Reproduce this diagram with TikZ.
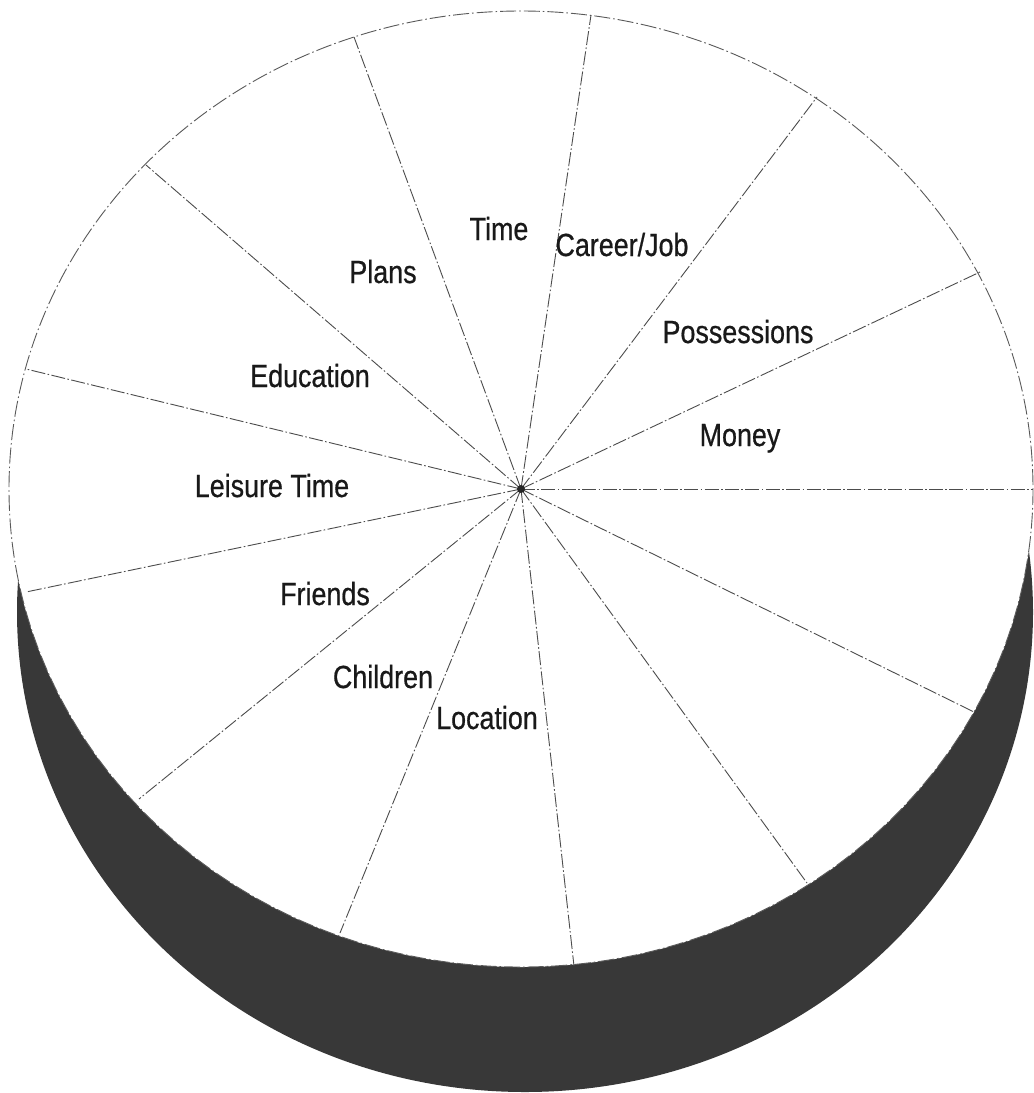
\documentclass[tikz,border=0pt]{standalone}
\usepackage{fontspec}
\newfontfamily\lblfont[FakeStretch=0.84,FakeBold=0.6]{Liberation Sans}
\begin{document}
\begin{tikzpicture}[x=0.5pt,y=-0.5pt,
  radial/.style={draw=black!70, line width=0.45pt, dash pattern=on 7pt off 1.2pt on 0.8pt off 1.2pt},
  rim/.style={draw=black!65, line width=0.45pt, dash pattern=on 8pt off 1.5pt on 0.8pt off 1.5pt},
  band/.style={fill=black!78},
  lbl/.style={font=\lblfont\fontsize{16}{19}\selectfont, text=black!90, inner sep=0pt, anchor=base}]
\useasboundingbox (0,0) rectangle (1034,1093);
% side of the cylinder
\fill[band] (525,612) ellipse [x radius=508, y radius=480];
% top face
\fill[white] (521,489) ellipse [x radius=512, y radius=478];
\draw[rim] (521,489) ellipse [x radius=512, y radius=478];
% centre and rim points
\coordinate (c) at (521,489);
\coordinate (p0) at (1033,489);
\coordinate (p1) at (980,272);
\coordinate (p2) at (817,97);
\coordinate (p3) at (591,15);
\coordinate (p4) at (354,37);
\coordinate (p5) at (146,165);
\coordinate (p6) at (26,369);
\coordinate (p7) at (26,592);
\coordinate (p8) at (139,799);
\coordinate (p9) at (340,933);
\coordinate (p10) at (574,966);
\coordinate (p11) at (807,883);
\coordinate (p12) at (974,712);
\foreach \i in {0,...,12} {\draw[radial] (c) -- (p\i);}
\fill[black!85] (c) circle [radius=4];
% labels
\node[lbl] (time) at (499,240) {Time};
\node[lbl] (career) at (622,256) {Career/Job};
\node[lbl] (plans) at (383,283) {Plans};
\node[lbl] (poss) at (738,343) {Possessions};
\node[lbl] (edu) at (310,387) {Education};
\node[lbl] (money) at (740,446) {Money};
\node[lbl] (leisure) at (272,497) {Leisure Time};
\node[lbl] (friends) at (325,605) {Friends};
\node[lbl] (children) at (383,688) {Children};
\node[lbl] (location) at (487,729) {Location};
\end{tikzpicture}
\end{document}
